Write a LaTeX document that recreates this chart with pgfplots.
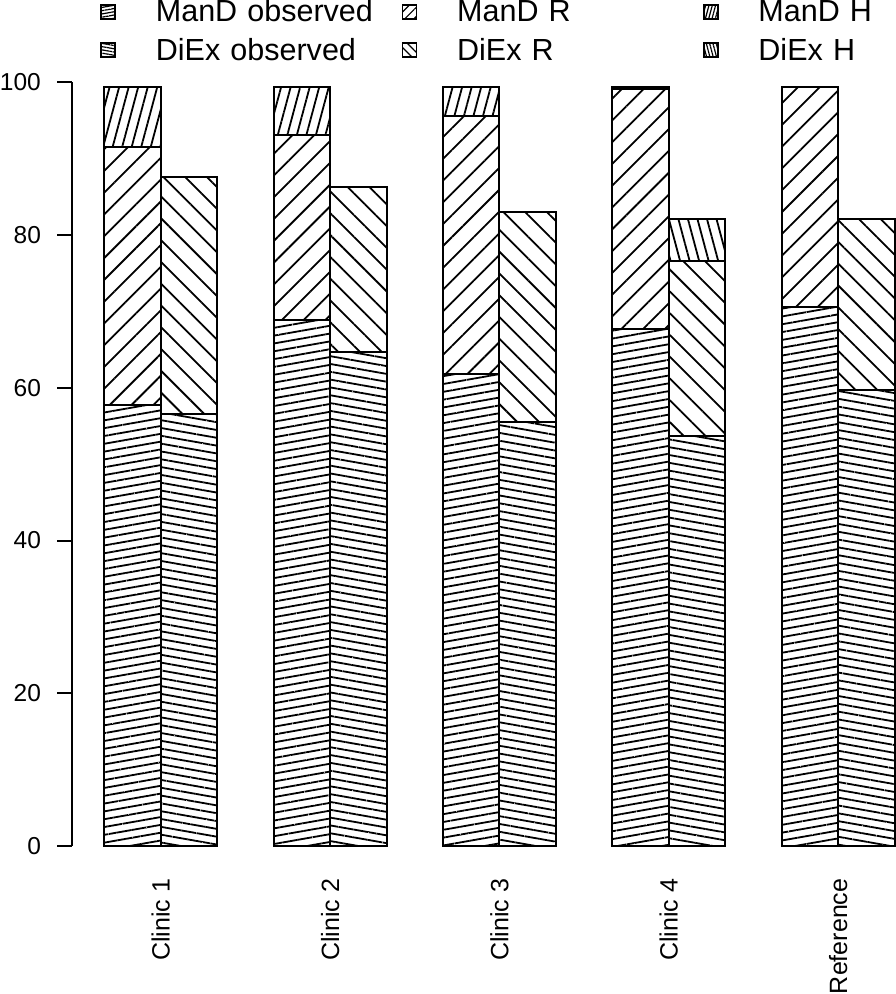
\documentclass[border=0pt]{standalone}
\usepackage{fontspec}
\setmainfont{Liberation Sans}
\usepackage{pgfplots}
\pgfplotsset{compat=1.18}
\usetikzlibrary{patterns.meta}
\tikzset{
  mobs/.style={draw=black, line width=1bp, pattern={Lines[angle=10,distance=3.85bp,line width=0.9bp]}},
  dobs/.style={draw=black, line width=1bp, pattern={Lines[angle=-10,distance=3.85bp,line width=0.9bp]}},
  mr/.style={draw=black, line width=1bp, pattern={Lines[angle=45,distance=7.7bp,line width=0.9bp]}},
  dr/.style={draw=black, line width=1bp, pattern={Lines[angle=-45,distance=7.7bp,line width=0.9bp]}},
  mh/.style={draw=black, line width=1bp, pattern={Lines[angle=75,distance=4.6bp,line width=0.9bp]}},
  dh/.style={draw=black, line width=1bp, pattern={Lines[angle=105,distance=4.6bp,line width=0.9bp]}},
  lmobs/.style={draw=black, line width=0.8bp, pattern={Lines[angle=10,distance=1.6bp,line width=0.6bp]}},
  ldobs/.style={draw=black, line width=0.8bp, pattern={Lines[angle=-10,distance=1.6bp,line width=0.6bp]}},
  lmr/.style={draw=black, line width=0.8bp, pattern={Lines[angle=45,distance=3.2bp,line width=0.6bp]}},
  ldr/.style={draw=black, line width=0.8bp, pattern={Lines[angle=-45,distance=3.2bp,line width=0.6bp]}},
  lmh/.style={draw=black, line width=0.8bp, pattern={Lines[angle=75,distance=1.6bp,line width=0.6bp]}},
  ldh/.style={draw=black, line width=0.8bp, pattern={Lines[angle=105,distance=1.6bp,line width=0.6bp]}},
}
\newcommand{\legbox}[1]{\addlegendimage{legend image code/.code={\draw[#1] (0bp,-2bp) rectangle (7bp,5bp);}}}
\begin{document}
\begin{tikzpicture}
\begin{axis}[
  scale only axis, width=411bp, height=382bp,
  xmin=-0.567, xmax=14, ymin=0, ymax=100,
  clip=false,
  axis lines*=left,
  x axis line style={draw=none},
  y axis line style={line width=1bp, black},
  ybar stacked, bar width=1,
  ytick={0,20,40,60,80,100},
  tick align=outside,
  major tick length=7.5bp,
  ytick style={line width=1bp, black},
  xtick style={draw=none},
  xtick={1,4,7,10,13},
  xticklabels={Clinic 1,Clinic 2,Clinic 3,Clinic 4,Reference},
  xticklabel style={rotate=90, anchor=east, inner sep=0pt, font=\fontsize{12.5bp}{14bp}\selectfont},
  xticklabel shift=8.5bp,
  yticklabel style={inner sep=0pt, font=\fontsize{12.25bp}{14bp}\selectfont},
  yticklabel shift=8bp,
  /pgf/number format/assume math mode=true,
  legend columns=3,
  legend cell align=left,
  legend style={at={(axis description cs:0.0345,1.1073)}, anchor=north west, draw=none, fill=none,
    inner sep=0pt, outer sep=0pt, row sep=4bp,
    font=\fontsize{15.25bp}{19bp}\selectfont,
    /tikz/every odd column/.style={column sep=20bp},
    nodes={inner sep=0pt, text height=11bp, text depth=4bp, text width=123bp, align=left},
    /tikz/column 6/.style={nodes={text width=60bp}}},
]
\legbox{lmobs}\addlegendentry{ManD observed}
\legbox{lmr}\addlegendentry{ManD R}
\legbox{lmh}\addlegendentry{ManD H}
\legbox{ldobs}\addlegendentry{DiEx observed}
\legbox{ldr}\addlegendentry{DiEx R}
\legbox{ldh}\addlegendentry{DiEx H}

\addplot[mobs, forget plot] coordinates {(0.5,57.7)(1.5,0)(3.5,68.9)(4.5,0)(6.5,61.8)(7.5,0)(9.5,67.7)(10.5,0)(12.5,70.6)(13.5,0)};
\addplot[dobs, forget plot] coordinates {(0.5,0)(1.5,56.6)(3.5,0)(4.5,64.7)(6.5,0)(7.5,55.5)(9.5,0)(10.5,53.7)(12.5,0)(13.5,59.7)};
\addplot[mr, forget plot] coordinates {(0.5,33.8)(1.5,0)(3.5,24.1)(4.5,0)(6.5,33.8)(7.5,0)(9.5,31.4)(10.5,0)(12.5,28.8)(13.5,0)};
\addplot[dr, forget plot] coordinates {(0.5,0)(1.5,31.0)(3.5,0)(4.5,21.6)(6.5,0)(7.5,27.5)(9.5,0)(10.5,22.9)(12.5,0)(13.5,22.4)};
\addplot[mh, forget plot] coordinates {(0.5,7.9)(1.5,0)(3.5,6.4)(4.5,0)(6.5,3.8)(7.5,0)(9.5,0.3)(10.5,0)(12.5,0)(13.5,0)};
\addplot[dh, forget plot] coordinates {(0.5,0)(1.5,0)(3.5,0)(4.5,0)(6.5,0)(7.5,0)(9.5,0)(10.5,5.5)(12.5,0)(13.5,0)};
\end{axis}
\end{tikzpicture}
\end{document}
